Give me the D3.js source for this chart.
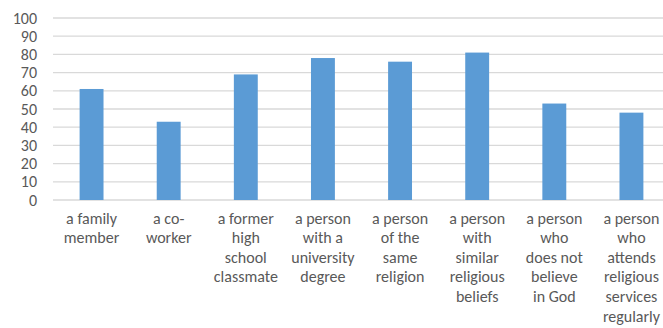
<!DOCTYPE html>
<html>
<head>
<meta charset="utf-8">
<script src="https://cdn.jsdelivr.net/npm/d3@7"></script>
<style>
  html, body { margin: 0; padding: 0; background: #fff; }
  svg { display: block; }
  text { font-family: Carlito, "Liberation Sans Narrow", Lato, sans-serif; fill: #595959; }
</style>
</head>
<body>
<script>
// Chart data
const categories = [
  ["a family", "member"],
  ["a co-", "worker"],
  ["a former", "high", "school", "classmate"],
  ["a person", "with a", "university", "degree"],
  ["a person", "of the", "same", "religion"],
  ["a person", "with", "similar", "religious", "beliefs"],
  ["a person", "who", "does not", "believe", "in God"],
  ["a person", "who", "attends", "religious", "services", "regularly"]
];
const values = [61, 43, 69, 78, 76, 81, 53, 48];
const yTicks = [0, 10, 20, 30, 40, 50, 60, 70, 80, 90, 100];

const W = 663, H = 328;
const margin = { left: 53, top: 18, bottom: 128 };
const plotRight = 670;

const svg = d3.select("body").append("svg")
  .attr("width", W).attr("height", H);

const x = d3.scaleBand()
  .domain(d3.range(categories.length))
  .range([margin.left, plotRight])
  .paddingInner(0.69).paddingOuter(0.345);

const y = d3.scaleLinear()
  .domain([0, 100])
  .range([H - margin.bottom, margin.top]);

// Horizontal gridlines
svg.append("g")
  .selectAll("line")
  .data(yTicks)
  .join("line")
  .attr("x1", margin.left).attr("x2", plotRight)
  .attr("y1", d => y(d)).attr("y2", d => y(d))
  .attr("stroke", "#d9d9d9").attr("stroke-width", 1.3);

// Y axis labels
const yAxis = d3.axisLeft(y).tickValues(yTicks).tickSize(0).tickPadding(0);
svg.append("g")
  .attr("transform", `translate(37,0)`)
  .call(yAxis)
  .call(g => g.select(".domain").remove())
  .selectAll("text")
  .attr("font-size", 16)
  .style("font-family", null)
  .attr("fill", "#595959");

// Bars
svg.append("g")
  .selectAll("rect")
  .data(values)
  .join("rect")
  .attr("x", (d, i) => x(i))
  .attr("width", x.bandwidth())
  .attr("y", d => y(d))
  .attr("height", d => y(0) - y(d))
  .attr("fill", "#5b9bd5");

// Category labels, wrapped over several lines
const labels = svg.append("g")
  .selectAll("text")
  .data(categories)
  .join("text")
  .attr("text-anchor", "middle")
  .attr("font-size", 16)
  .attr("x", (d, i) => x(i) + x.bandwidth() / 2)
  .attr("y", 223.5);

labels.selectAll("tspan")
  .data(d => d)
  .join("tspan")
  .attr("x", function () { return this.parentNode.getAttribute("x"); })
  .attr("dy", (d, i) => i === 0 ? 0 : 19.6)
  .text(d => d);
</script>
</body>
</html>
